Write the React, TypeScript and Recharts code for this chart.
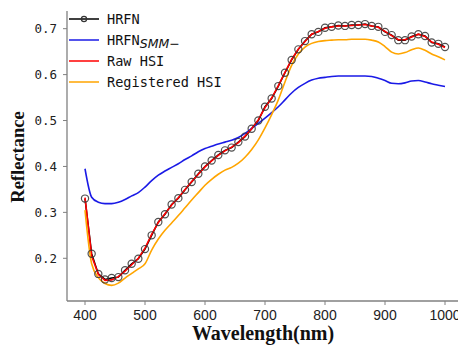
import React from 'react';
import { LineChart, Line, XAxis, YAxis } from 'recharts';

// band centres (nm), 55 bands from 400 to 1000
const wavelengths = [
  400, 411.1, 422.2, 433.3, 444.4, 455.6, 466.7, 477.8, 488.9, 500,
  511.1, 522.2, 533.3, 544.4, 555.6, 566.7, 577.8, 588.9, 600, 611.1,
  622.2, 633.3, 644.4, 655.6, 666.7, 677.8, 688.9, 700, 711.1, 722.2,
  733.3, 744.4, 755.6, 766.7, 777.8, 788.9, 800, 811.1, 822.2, 833.3,
  844.4, 855.6, 866.7, 877.8, 888.9, 900, 911.1, 922.2, 933.3, 944.4,
  955.6, 966.7, 977.8, 988.9, 1000,
];

const hrfn = [
  0.330, 0.210, 0.166, 0.154, 0.157, 0.159, 0.174, 0.188, 0.199, 0.220,
  0.250, 0.279, 0.296, 0.317, 0.331, 0.349, 0.366, 0.384, 0.400, 0.413,
  0.425, 0.435, 0.441, 0.453, 0.465, 0.482, 0.500, 0.530, 0.548, 0.575,
  0.604, 0.632, 0.655, 0.673, 0.688, 0.693, 0.702, 0.704, 0.707, 0.706,
  0.708, 0.708, 0.710, 0.706, 0.704, 0.693, 0.686, 0.675, 0.675, 0.683,
  0.688, 0.684, 0.670, 0.667, 0.660,
];

const hrfnSmm = [
  0.395, 0.333, 0.322, 0.319, 0.319, 0.322, 0.328, 0.336, 0.343, 0.355,
  0.369, 0.381, 0.390, 0.398, 0.406, 0.415, 0.423, 0.432, 0.439, 0.444,
  0.449, 0.453, 0.457, 0.463, 0.472, 0.483, 0.494, 0.505, 0.517, 0.530,
  0.545, 0.560, 0.572, 0.581, 0.588, 0.592, 0.594, 0.596, 0.597, 0.597,
  0.597, 0.597, 0.597, 0.596, 0.592, 0.587, 0.581, 0.580, 0.582, 0.586,
  0.587, 0.584, 0.580, 0.577, 0.574,
];

const rawHsi = [
  0.332, 0.205, 0.165, 0.152, 0.153, 0.160, 0.172, 0.186, 0.200, 0.222,
  0.252, 0.278, 0.297, 0.316, 0.332, 0.350, 0.367, 0.383, 0.399, 0.412,
  0.424, 0.434, 0.442, 0.452, 0.466, 0.482, 0.502, 0.528, 0.549, 0.576,
  0.605, 0.633, 0.656, 0.672, 0.688, 0.694, 0.701, 0.704, 0.706, 0.706,
  0.707, 0.708, 0.709, 0.706, 0.703, 0.694, 0.685, 0.676, 0.676, 0.682,
  0.688, 0.683, 0.671, 0.666, 0.659,
];

const registeredHsi = [
  0.305, 0.188, 0.158, 0.145, 0.141, 0.146, 0.157, 0.167, 0.177, 0.188,
  0.218, 0.242, 0.261, 0.277, 0.293, 0.310, 0.327, 0.343, 0.359, 0.372,
  0.383, 0.392, 0.398, 0.407, 0.420, 0.437, 0.458, 0.484, 0.513, 0.545,
  0.584, 0.620, 0.645, 0.660, 0.668, 0.672, 0.674, 0.675, 0.676, 0.676,
  0.677, 0.677, 0.677, 0.675, 0.671, 0.661, 0.649, 0.645, 0.648, 0.654,
  0.658, 0.653, 0.645, 0.639, 0.632,
];

const xTicks = [400, 500, 600, 700, 800, 900, 1000];
const yTicks = [0.2, 0.3, 0.4, 0.5, 0.6, 0.7];

const data = wavelengths.map((w, i) => ({
  w,
  hrfn: hrfn[i],
  smm: hrfnSmm[i],
  raw: rawHsi[i],
  reg: registeredHsi[i],
}));

const AXIS = '#808080';
const monoFont = '"DejaVu Sans Mono", monospace';

const Ring = (props: any) => {
  const { cx, cy } = props;
  if (cx == null || cy == null) return null;
  return <circle cx={cx} cy={cy} r={3.6} fill="none" stroke="#333" strokeOpacity={0.85} strokeWidth={1.2} />;
};

const LegendBox = () => {
  const rows = [
    { color: '#000000', y: 11, marker: true },
    { color: '#1a1ae6', y: 32 },
    { color: '#ff0000', y: 53 },
    { color: '#ffa500', y: 74 },
  ];
  return (
    <svg width={200} height={90} style={{ position: 'absolute', left: 60, top: 0 }}>
      {rows.map((r, i) => (
        <g key={i}>
          <line x1={1} x2={31} y1={r.y} y2={r.y} stroke={r.color} strokeWidth={1.5} />
          {r.marker && <circle cx={16} cy={r.y} r={2.6} fill="none" stroke="#333" strokeWidth={1.2} />}
        </g>
      ))}
      <g fontFamily={monoFont} fontSize={13.6} fill="#111">
        <text x={39} y={16}>HRFN</text>
        <text x={39} y={37}>
          HRFN
          <tspan fontFamily="DejaVu Sans" fontStyle="italic" fontSize={12.5} dy={3}>SMM−</tspan>
        </text>
        <text x={39} y={58}>Raw HSI</text>
        <text x={39} y={79}>Registered HSI</text>
      </g>
    </svg>
  );
};

export default function App() {
  return (
    <div style={{ position: 'fixed', left: 8, top: 8, width: 450, height: 337, overflow: 'hidden', background: '#fff' }}>
      <LineChart width={460} height={337} data={data} margin={{ top: 3, right: 5, bottom: 0, left: 0 }}>
        <XAxis
          xAxisId="top"
          orientation="top"
          dataKey="w"
          type="number"
          domain={[370, 1030]}
          height={0}
          tick={false}
          tickLine={false}
          axisLine={{ stroke: AXIS, strokeWidth: 1.3 }}
        />
        <XAxis
          dataKey="w"
          type="number"
          domain={[370, 1030]}
          ticks={xTicks}
          height={44}
          tickSize={4}
          tickMargin={5}
          allowDataOverflow
          axisLine={{ stroke: AXIS, strokeWidth: 1.3 }}
          tickLine={{ stroke: AXIS }}
          tick={{ fill: '#222', fontSize: 14, fontFamily: '"Liberation Sans", Arial, sans-serif' }}
          label={{
            content: () => (
              <text x={255} y={332} textAnchor="middle" fontFamily='"Liberation Serif", "Times New Roman", serif'
                fontWeight="bold" fontSize={20} fill="#111">Wavelength(nm)</text>
            ),
          }}
        />
        <YAxis
          type="number"
          domain={[0.107, 0.7385]}
          ticks={yTicks}
          width={59}
          tickSize={4}
          tickMargin={6}
          allowDataOverflow
          axisLine={{ stroke: AXIS, strokeWidth: 1.3 }}
          tickLine={{ stroke: AXIS }}
          tick={{ fill: '#222', fontSize: 12.5, fontFamily: monoFont }}
          label={{
            content: () => (
              <text x={16} y={149} textAnchor="middle" transform="rotate(-90 16 149)"
                fontFamily='"Liberation Serif", "Times New Roman", serif'
                fontWeight="bold" fontSize={18.5} fill="#111">Reflectance</text>
            ),
          }}
        />
        <Line dataKey="hrfn" stroke="#000" strokeWidth={1.5} dot={<Ring />} isAnimationActive={false} />
        <Line dataKey="smm" stroke="#1a1ae6" strokeWidth={1.6} dot={false} type="monotone" isAnimationActive={false} />
        <Line dataKey="raw" stroke="#ff0000" strokeWidth={1.6} dot={false} isAnimationActive={false} />
        <Line dataKey="reg" stroke="#ffa500" strokeWidth={1.6} dot={false} type="monotone" isAnimationActive={false} />
      </LineChart>
      <LegendBox />
    </div>
  );
}
